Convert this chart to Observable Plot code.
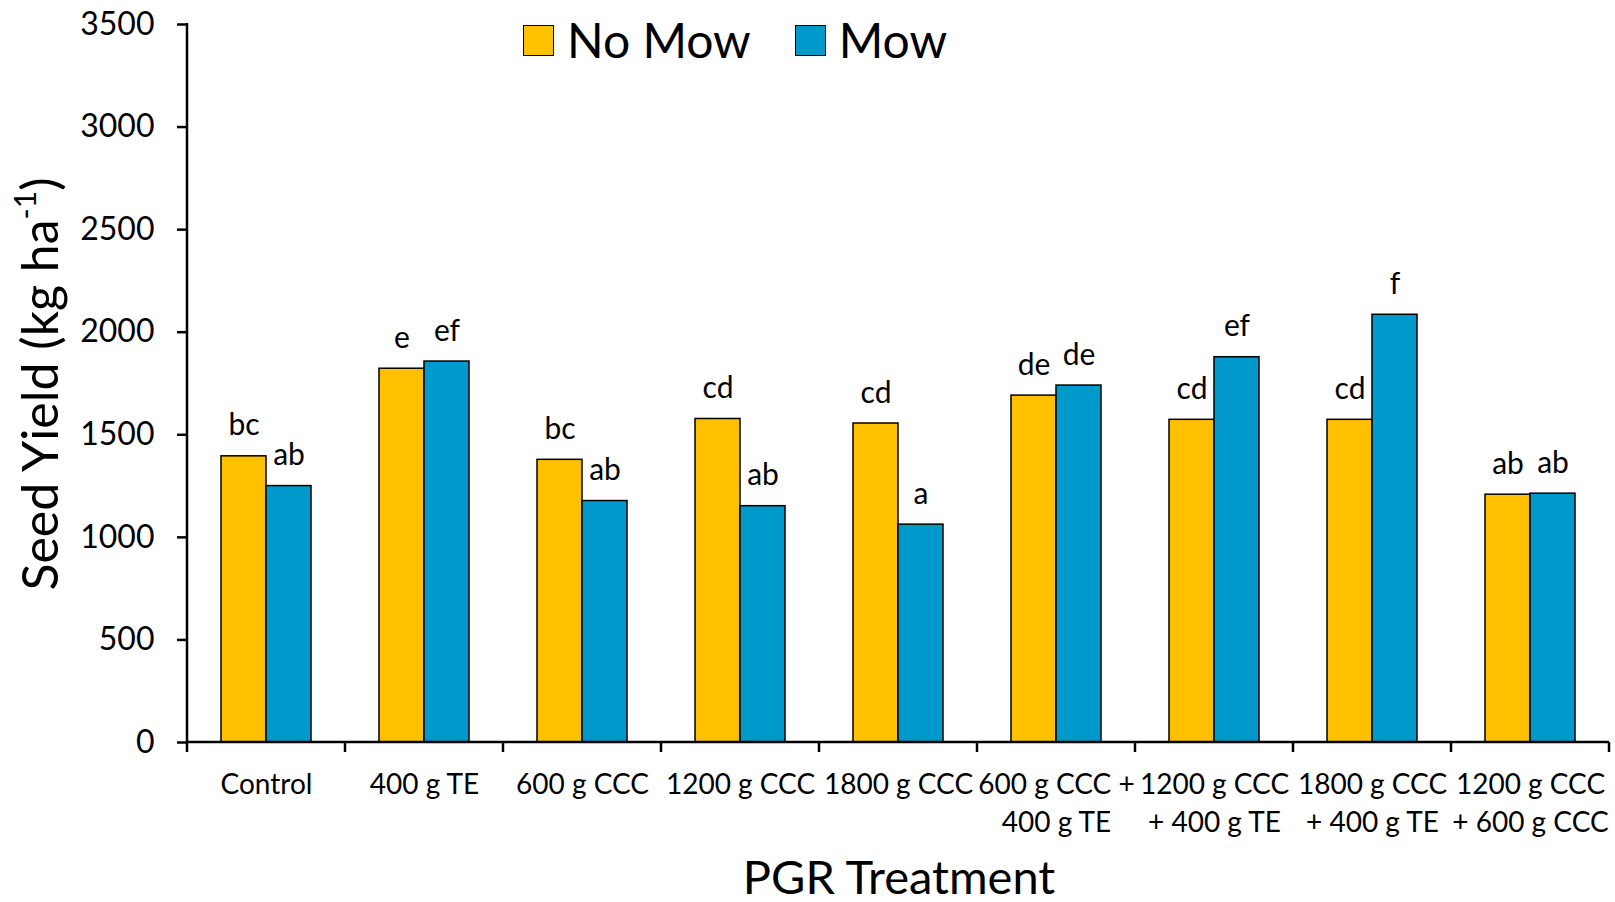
<!DOCTYPE html>
<html><head><meta charset="utf-8">
<script src="https://cdn.jsdelivr.net/npm/d3@7"></script>
<script src="https://cdn.jsdelivr.net/npm/@observablehq/plot@0.6"></script>
<style>
body{margin:0;background:#fff;font-family:Lato,sans-serif;color:#000;}
#wrap{position:relative;width:1615px;height:902px;overflow:hidden;}
#wrap svg{position:absolute;left:0;top:0;}
.ytitle{position:absolute;left:39px;top:384px;transform:translate(-50%,-50%) rotate(-90deg);font-size:50px;white-space:nowrap;line-height:1;}
.ytitle sup{font-size:0.6em;vertical-align:0.75em;line-height:0;}
.xtitle{position:absolute;left:899px;top:876px;transform:translate(-50%,-50%);font-size:47px;white-space:nowrap;line-height:1;}
.legend{position:absolute;left:523px;top:16px;display:flex;align-items:center;font-size:48px;line-height:1;}
.legend .sw{width:29px;height:29px;border:1.5px solid #000;display:inline-block;margin-right:13px;}
.legend .item{display:flex;align-items:center;margin-right:44px;}
</style></head><body>
<div id="wrap"></div>
<script>
const categories = ["Control", "400 g TE", "600 g CCC", "1200 g CCC", "1800 g CCC",
  "600 g CCC +\n400 g TE", "1200 g CCC\n+ 400 g TE", "1800 g CCC\n+ 400 g TE", "1200 g CCC\n+ 600 g CCC"];
const series = ["No Mow", "Mow"];
const colors = ["#FFC000", "#0099CC"];
const noMowValues = [1395, 1822, 1378, 1577, 1555, 1691, 1573, 1573, 1208];
const mowValues = [1250, 1857, 1177, 1152, 1062, 1740, 1878, 2085, 1213];
const noMowLetters = ["bc", "e", "bc", "cd", "cd", "de", "cd", "cd", "ab"];
const mowLetters = ["ab", "ef", "ab", "ab", "a", "de", "ef", "f", "ab"];
const yTicks = [0, 500, 1000, 1500, 2000, 2500, 3000, 3500];

const rows = categories.flatMap((c, i) => [
  {cat: c, series: series[0], value: noMowValues[i], letter: noMowLetters[i]},
  {cat: c, series: series[1], value: mowValues[i], letter: mowLetters[i]}
]);

const plot = Plot.plot({
  width: 1615, height: 902,
  marginLeft: 186, marginRight: 5, marginTop: 24, marginBottom: 160,
  style: {fontFamily: "Lato, sans-serif", color: "black", background: "transparent", overflow: "visible"},
  fx: {domain: categories, padding: 0, label: null},
  x: {domain: series, paddingInner: 0, paddingOuter: 0.745, axis: null},
  y: {domain: [0, 3500], label: null},
  color: {domain: series, range: colors},
  marks: [
    Plot.barY(rows, {fx: "cat", x: "series", y: "value", fill: "series", stroke: "black", strokeWidth: 1.5}),
    Plot.text(rows, {fx: "cat", x: "series", y: "value", text: "letter", lineAnchor: "bottom", dy: -21, fontSize: 30}),
    Plot.axisY({ticks: yTicks, tickFormat: d => String(d), tickSize: 10, tickPadding: 23, fontSize: 32, strokeWidth: 2.5, label: null}),
    Plot.axisFx({anchor: "bottom", tickSize: 0, tickPadding: 24, fontSize: 28, lineHeight: 1.37, label: null})
  ]
});

const wrap = document.getElementById("wrap");
wrap.appendChild(plot);

// axis lines and boundary ticks from the plot's own scales
const fx = plot.scale("fx"), y = plot.scale("y");
const x0 = fx.apply(categories[0]);
const x1 = fx.apply(categories[categories.length - 1]) + fx.bandwidth;
const y0 = y.apply(0), yTop = y.apply(3500);
const g = d3.select(plot).append("g").attr("stroke", "black").attr("stroke-width", 2.5).attr("fill", "none");
g.append("line").attr("x1", x0).attr("x2", x0).attr("y1", yTop - 1).attr("y2", y0 + 1);
g.append("line").attr("x1", x0 - 1).attr("x2", x1).attr("y1", y0).attr("y2", y0);
const bounds = categories.map(c => fx.apply(c)).concat([x1]);
bounds.forEach(b => g.append("line").attr("x1", b).attr("x2", b).attr("y1", y0).attr("y2", y0 + 10));

// titles & legend
const yt = document.createElement("div");
yt.className = "ytitle";
yt.innerHTML = "Seed Yield (kg ha<sup>-1</sup>)";
wrap.appendChild(yt);
const xt = document.createElement("div");
xt.className = "xtitle";
xt.textContent = "PGR Treatment";
wrap.appendChild(xt);
const lg = document.createElement("div");
lg.className = "legend";
series.forEach((s, i) => {
  const it = document.createElement("span");
  it.className = "item";
  const sw = document.createElement("span");
  sw.className = "sw";
  sw.style.background = colors[i];
  it.appendChild(sw);
  it.appendChild(document.createTextNode(s));
  lg.appendChild(it);
});
wrap.appendChild(lg);
</script>
</body></html>
